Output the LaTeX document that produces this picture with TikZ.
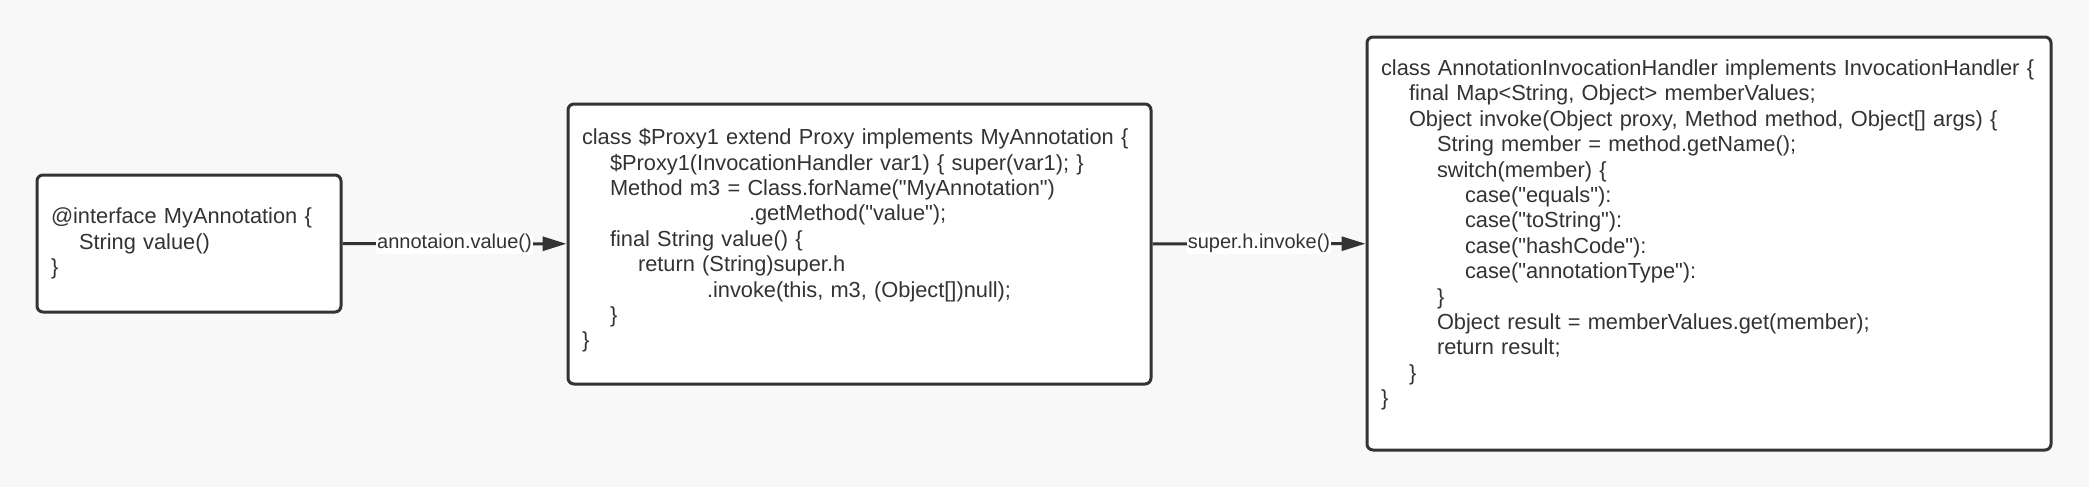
\documentclass[tikz,border=0pt]{standalone}
\usepackage{fontspec}
\setmainfont{Liberation Sans}[Ligatures=TeXOff]
\usetikzlibrary{arrows.meta}
\definecolor{bgcol}{HTML}{F8F8F8}
\definecolor{inkcol}{HTML}{333333}
\newcommand{\ind}[1]{\hspace*{#1pt}}

\begin{document}
\begin{tikzpicture}[x=0.5pt,y=-0.5pt]
\tikzstyle{codebox} = [draw=inkcol, fill=white, line width=1.5pt, rounded corners=3pt, align=left, inner xsep=7pt, text=inkcol, font=\fontsize{10.9}{12.7}\selectfont]
\tikzstyle{link} = [draw=inkcol, line width=1.5pt, -{Triangle[length=12pt,width=7pt]}]
\tikzstyle{lbl} = [fill=white, inner sep=0.6pt, text=inkcol, font=\fontsize{10}{12}\selectfont]

\fill[bgcol] (0,0) rectangle (2089,487);

\node[codebox, minimum width=152pt, minimum height=68.5pt, text width=138pt] (iface) at (189,243.5) {@interface MyAnnotation \{\\
\ind{14}String value()\\
\}};

\node[codebox, minimum width=291.5pt, minimum height=140pt, text width=277.5pt] (proxy) at (859.5,244) {class \$Proxy1 extend Proxy implements MyAnnotation \{\\
\ind{14}\$Proxy1(InvocationHandler var1) \{ super(var1); \}\\
\ind{14}Method m3 = Class.forName("MyAnnotation")\\
\ind{83.5}.getMethod("value");\\
\ind{14}final String value() \{\\
\ind{28}return (String)super.h\\
\ind{62.5}.invoke(this, m3, (Object[])null);\\
\ind{14}\}\\
\}\\[-7pt]\mbox{}};

\node[codebox, minimum width=342pt, minimum height=206.5pt, text width=328pt] (handler) at (1709,243.5) {class AnnotationInvocationHandler implements InvocationHandler \{\\
\ind{14}final Map<String, Object> memberValues;\\
\ind{14}Object invoke(Object proxy, Method method, Object[] args) \{\\
\ind{28}String member = method.getName();\\
\ind{28}switch(member) \{\\
\ind{42}case("equals"):\\
\ind{42}case("toString"):\\
\ind{42}case("hashCode"):\\
\ind{42}case("annotationType"):\\
\ind{28}\}\\
\ind{28}Object result = memberValues.get(member);\\
\ind{28}return result;\\
\ind{14}\}\\
\}\\[-2pt]\mbox{}};

\draw[link] (iface) -- node[lbl] {annotaion.value()} (proxy);
\draw[link] (proxy) -- node[lbl] {super.h.invoke()} (handler);
\end{tikzpicture}
\end{document}
